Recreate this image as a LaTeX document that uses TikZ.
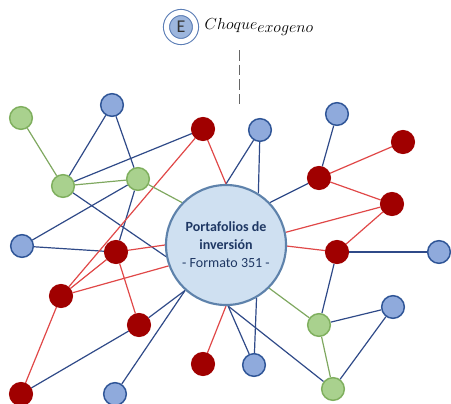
\documentclass[tikz,border=0pt]{standalone}
\usepackage{fontspec}
\setmainfont{Carlito}
\usetikzlibrary{backgrounds,positioning}

\definecolor{greenfill}{HTML}{A9D18E}
\definecolor{greenborder}{HTML}{7FAF5E}
\definecolor{greenedge}{HTML}{7FA860}
\definecolor{bluefill}{HTML}{8FAADC}
\definecolor{blueborder}{HTML}{2F5597}
\definecolor{blueedge}{HTML}{2F4A88}
\definecolor{redfill}{HTML}{A00000}
\definecolor{rededge}{HTML}{E04848}
\definecolor{pffill}{HTML}{CFE0F1}
\definecolor{pfborder}{HTML}{5E82AB}
\definecolor{pftext}{HTML}{1F3864}
\definecolor{shockfill}{HTML}{9DB6DD}
\definecolor{shockborder}{HTML}{5B7DB5}

\begin{document}
\begin{tikzpicture}
   [
      x=0.75pt, y=-0.75pt,
      dot/.style={circle, line width=1.1pt, minimum size=17pt, inner sep=0pt},
      greendot/.style={dot, draw=greenborder, fill=greenfill},
      bluedot/.style={dot, draw=blueborder, fill=bluefill},
      reddot/.style={dot, draw=redfill, fill=redfill},
      blueline/.style={draw=blueedge, line width=0.9pt},
      redline/.style={draw=rededge, line width=0.9pt},
      greenline/.style={draw=greenedge, line width=0.9pt},
      portfolio/.style={circle, draw=pfborder, fill=pffill, line width=1.6pt,
      minimum size=90pt, inner sep=0pt, align=center, text=pftext,
      font=\fontsize{10.5}{13.5}\selectfont},
      shockdot/.style={circle, draw=shockborder, line width=0.8pt, double=white,
      double distance=3.75pt, fill=shockfill, minimum size=21.75pt, inner sep=0pt,
      text=black!80, font=\fontsize{13.5}{15}\selectfont}
   ]
   \useasboundingbox (0,0) rectangle (451,404);

   \node[shockdot] (shock) at (181,27) {E};
   \node[right=3pt of shock, font=\fontsize{12}{14}\selectfont] (choque)
      {$Choque_{\textstyle exogeno}$};
   \coordinate (dashtop) at (239,50);
   \coordinate (dashbot) at (239,104);
   \draw[gray!80!black, line width=0.6pt, dash pattern=on 8pt off 3pt]
      (dashtop) -- (dashbot);

   \node[portfolio] (pf) at (226,245)
      {\textbf{Portafolios de}\\\textbf{inversión}\\- Formato 351 -};

   \foreach \name/\x/\y in {g1/21/118, g2/63/186, g3/138/179, g4/319/325,
      g5/333/389}
      \node[greendot] (\name) at (\x,\y) {};
   \foreach \name/\x/\y in {b1/112/105, b2/22/246, b3/260/130, b4/337/114,
      b5/439/252, b6/393/307, b7/254/365, b8/115/394}
      \node[bluedot] (\name) at (\x,\y) {};
   \foreach \name/\x/\y in {r1/203/129, r2/116/252, r3/61/296, r4/139/325,
      r5/319/178, r6/403/142, r7/392/204, r8/337/252, r9/203/364, r10/21/394}
      \node[reddot] (\name) at (\x,\y) {};

   \begin{scope}[on background layer]
      \foreach \a/\b in {g2/b1, g3/b1, g2/r1, g2/pf.191, g3/b2, g3/r2, b2/r2,
         r4/pf.228, r4/r10, b8/pf.228, b3/pf.90, b3/pf.58, b4/r5, r5/pf.44,
         r8/b5, r8/g4, g4/b6, b6/g5, pf.272/g5, pf.272/b7, pf.300/b7}
         \draw[blueline] (\a) -- (\b);
      \foreach \a/\b in {r1/pf.90, r1/r3, r2/r3, r2/pf.180, r3/pf.200, r2/r4,
         r3/r10, r5/r6, r5/r7, r7/pf.12, r7/r8, r8/pf.359, pf.270/r9}
         \draw[redline] (\a) -- (\b);
      \foreach \a/\b in {g1/g2, g2/g3, g3/pf.136, pf.315/g4, g4/g5}
         \draw[greenline] (\a) -- (\b);
   \end{scope}
\end{tikzpicture}
\end{document}
